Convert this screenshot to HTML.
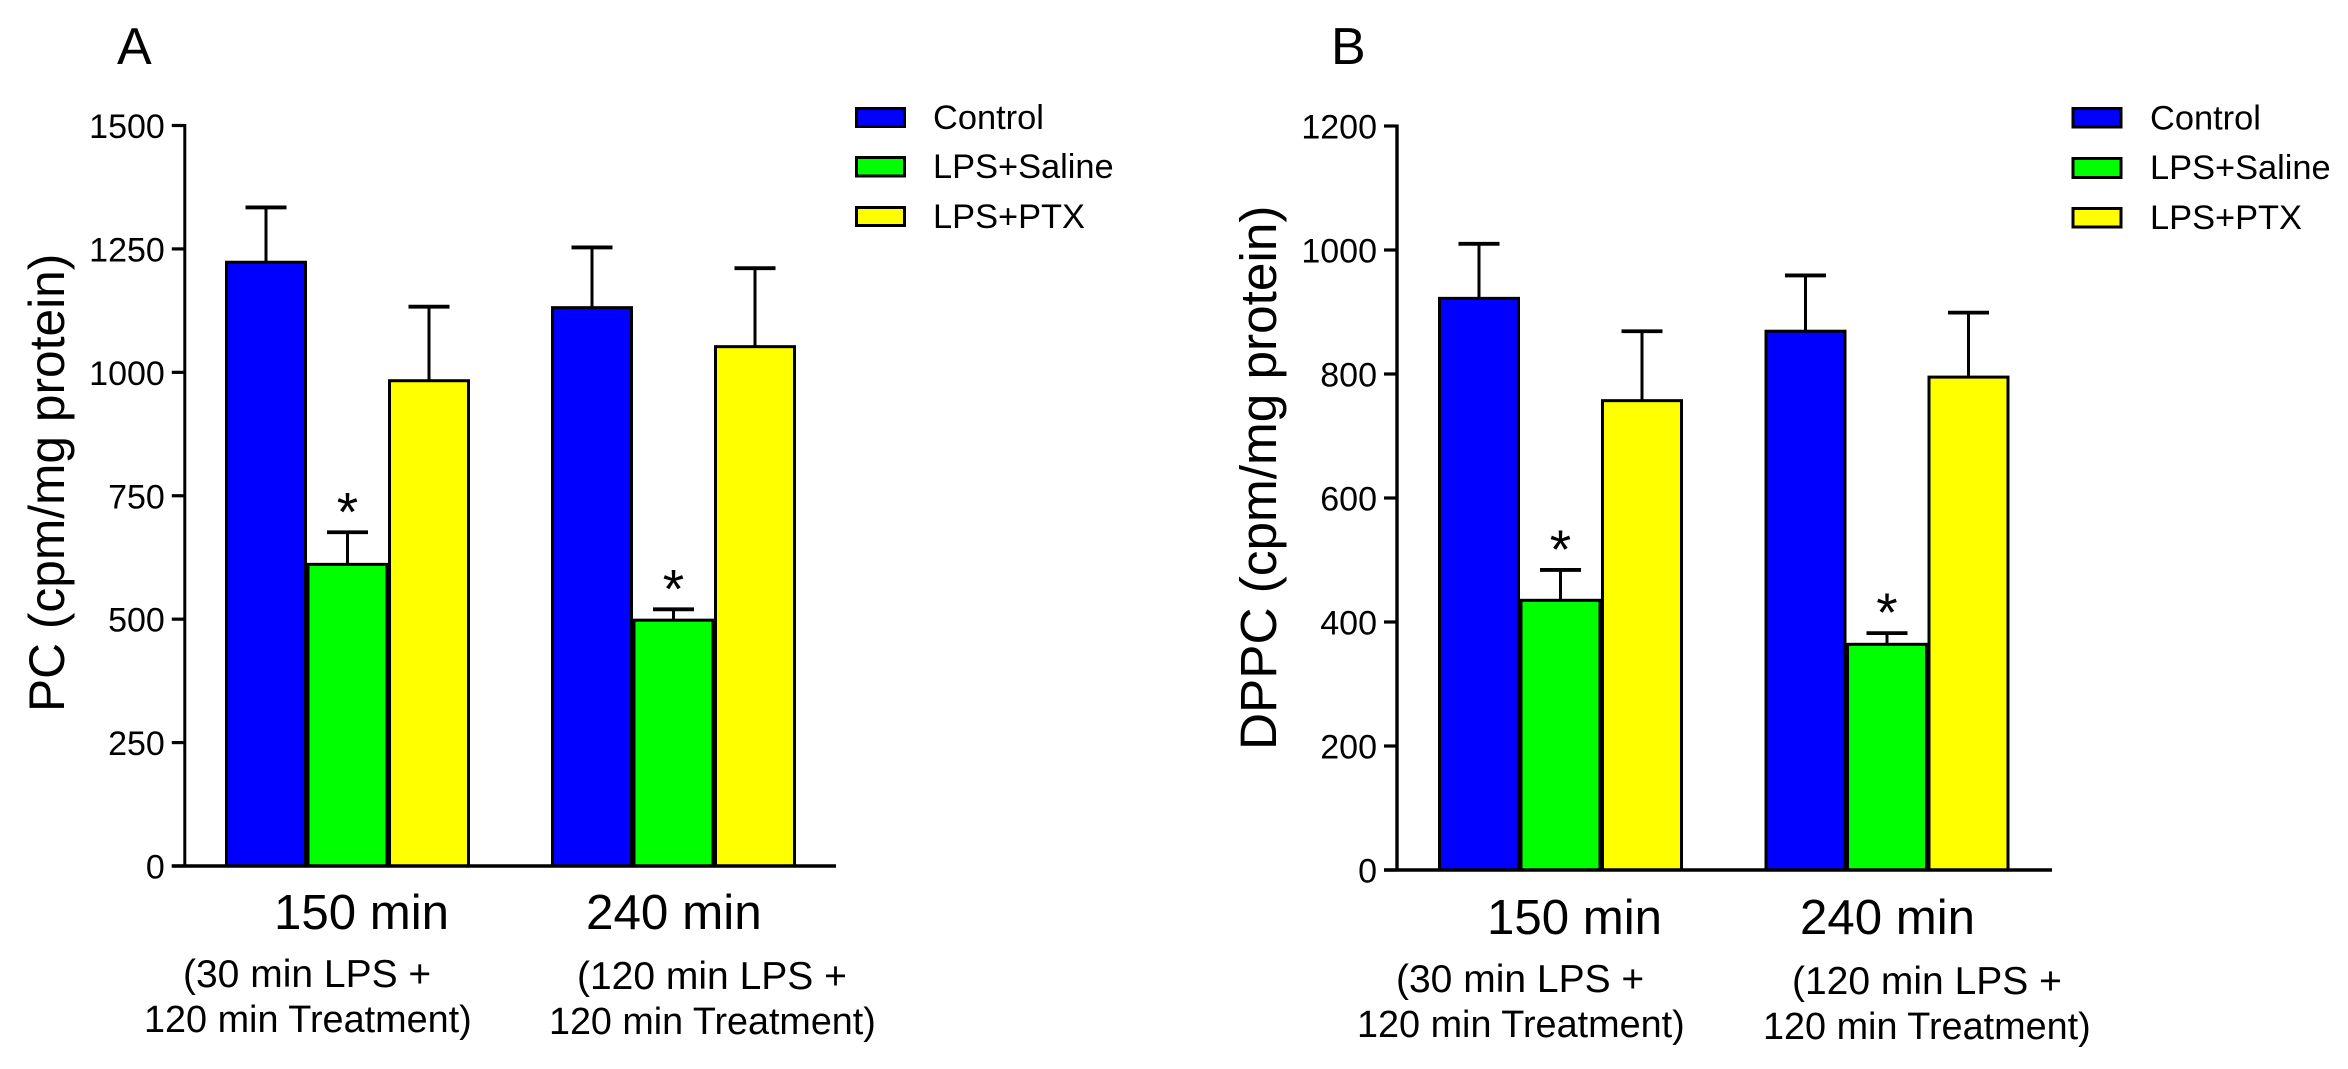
<!DOCTYPE html>
<html lang="en">
<head>
<meta charset="utf-8">
<title>PC and DPPC bar charts</title>
<style>
html,body{margin:0;padding:0;background:#fff;width:2348px;height:1069px;overflow:hidden}
svg{display:block}
text{font-family:"Liberation Sans",Arial,sans-serif;fill:#000}
</style>
</head>
<body>
<svg id="figure" xmlns="http://www.w3.org/2000/svg" width="2348" height="1069" viewBox="0 0 2348 1069">
  <rect x="0" y="0" width="2348" height="1069" fill="#fff"/>

  <g id="panel-a">
    <text x="117" y="64" font-size="52">A</text>
    <text transform="translate(64,712) rotate(-90)" font-size="49.7">PC (cpm/mg protein)</text>
    <text x="274" y="929" font-size="49.2">150 min</text>
    <text x="586" y="929" font-size="49.4">240 min</text>
    <text x="183" y="987" font-size="39">(30 min LPS +</text>
    <text x="144" y="1032" font-size="37.8">120 min Treatment)</text>
    <text x="577" y="989" font-size="39">(120 min LPS +</text>
    <text x="549" y="1034" font-size="37.7">120 min Treatment)</text>
    <g>
      <rect x="856.5" y="108.5" width="48" height="18" fill="#0000ff" stroke="#000" stroke-width="3"/>
      <text x="933" y="129" font-size="34.4">Control</text>
      <rect x="856.5" y="157.5" width="48" height="18.5" fill="#00ff00" stroke="#000" stroke-width="3"/>
      <text x="933" y="178" font-size="34.4">LPS+Saline</text>
      <rect x="856.5" y="207.5" width="48" height="18" fill="#ffff00" stroke="#000" stroke-width="3"/>
      <text x="933" y="228" font-size="34.4">LPS+PTX</text>
    </g>
  </g>

  <g id="panel-b">
    <text x="1331" y="64" font-size="52">B</text>
    <text transform="translate(1276,750) rotate(-90)" font-size="51.3">DPPC (cpm/mg protein)</text>
    <text x="1487" y="934" font-size="49.2">150 min</text>
    <text x="1800" y="934" font-size="49.2">240 min</text>
    <text x="1396" y="992" font-size="39">(30 min LPS +</text>
    <text x="1357" y="1037" font-size="37.8">120 min Treatment)</text>
    <text x="1792" y="994" font-size="39">(120 min LPS +</text>
    <text x="1763" y="1039" font-size="37.8">120 min Treatment)</text>
    <g>
      <rect x="2073" y="108.5" width="48" height="18.5" fill="#0000ff" stroke="#000" stroke-width="3"/>
      <text x="2150" y="129.5" font-size="34.4">Control</text>
      <rect x="2073" y="158.5" width="48" height="19" fill="#00ff00" stroke="#000" stroke-width="3"/>
      <text x="2150" y="179" font-size="34.4">LPS+Saline</text>
      <rect x="2073" y="208.5" width="48" height="18.5" fill="#ffff00" stroke="#000" stroke-width="3"/>
      <text x="2150" y="229" font-size="34.4">LPS+PTX</text>
    </g>
  </g>
</svg>

<script>
// Panel A data (PC)
var categories = ['150 min', '240 min'];
var seriesNames = ['Control', 'LPS+Saline', 'LPS+PTX'];
var seriesColors = ['#0000ff', '#00ff00', '#ffff00'];
var pcControl = [1223, 1131];
var pcSaline = [611, 498];
var pcPtx = [983, 1052];
var pcControlErr = [111, 122];
var pcSalineErr = [65, 22];
var pcPtxErr = [150, 159];
var pcTicks = [0, 250, 500, 750, 1000, 1250, 1500];
var pcMax = 1500;
var pcStars = [false, true, false];

// Panel B data (DPPC)
var dppcControl = [922, 869];
var dppcSaline = [435, 364];
var dppcPtx = [757, 795];
var dppcControlErr = [88, 90];
var dppcSalineErr = [49, 18];
var dppcPtxErr = [112, 104];
var dppcTicks = [0, 200, 400, 600, 800, 1000, 1200];
var dppcMax = 1200;
var dppcStars = [false, true, false];

var NS = 'http://www.w3.org/2000/svg';

function shape(parent, tag, attrs) {
  var el = document.createElementNS(NS, tag);
  for (var k in attrs) el.setAttribute(k, attrs[k]);
  parent.appendChild(el);
  return el;
}

function drawPanel(cfg) {
  var root = document.getElementById(cfg.rootId);
  var suffix = cfg.suffix;

  function yScale(v) {
    return cfg.y0 - (v / cfg.max) * (cfg.y0 - cfg.yTop);
  }
  function barLeft(group, series) {
    return cfg.groupStarts[group] + series * cfg.barStep;
  }

  var barsLayer = shape(root, 'g', {});
  
  

  for (var g = 0; g < categories.length; g++) {
    for (var s = 0; s < seriesNames.length; s++) {
      var value = cfg.values[s][g];
      var err = cfg.errors[s][g];
      var left = barLeft(g, s);
      var cx = left + cfg.barWidth / 2;
      var top = yScale(value);
      var errTop = yScale(value + err);

      var errLine = shape(barsLayer, 'line', {x1: cx, x2: cx, y1: top, y2: errTop, stroke: '#000', 'stroke-width': 3});
      
      

      var cap = shape(barsLayer, 'line', {x1: cx - 20.5, x2: cx + 20.5, y1: errTop, y2: errTop, stroke: '#000', 'stroke-width': 3.8});
      
      

      var bar = shape(barsLayer, 'rect', {x: left, y: top, width: cfg.barWidth, height: cfg.y0 - top, fill: seriesColors[s], stroke: '#000', 'stroke-width': 3});
      
      

      if (cfg.stars[s]) {
        var star = shape(barsLayer, 'text', {x: cx, y: errTop - 2, 'font-size': 55, 'text-anchor': 'middle'});
        star.textContent = '*';
        
        
      }
    }
  }

  var axisLayer = shape(root, 'g', {});
  
  

  var yAxis = shape(axisLayer, 'line', {x1: cfg.axisX, x2: cfg.axisX, y1: cfg.yTop - 1.5, y2: cfg.y0, stroke: '#000', 'stroke-width': cfg.axisWidth});
  
  

  var xAxis = shape(axisLayer, 'line', {x1: cfg.axisX - 13, x2: cfg.xEnd, y1: cfg.y0, y2: cfg.y0, stroke: '#000', 'stroke-width': 3.6});
  
  

  for (var t = 0; t < cfg.ticks.length; t++) {
    var ty = yScale(cfg.ticks[t]);
    var tick = shape(axisLayer, 'line', {x1: cfg.axisX - 13, x2: cfg.axisX, y1: ty, y2: ty, stroke: '#000', 'stroke-width': 3.2});
    
    

    var label = shape(axisLayer, 'text', {x: cfg.axisX - 20, y: ty + 12.5, 'font-size': 34, 'text-anchor': 'end'});
    label.textContent = String(cfg.ticks[t]);
    
    
  }
}

drawPanel({
  rootId: 'panel-a', suffix: 'a',
  values: [pcControl, pcSaline, pcPtx],
  errors: [pcControlErr, pcSalineErr, pcPtxErr],
  ticks: pcTicks, max: pcMax, stars: pcStars,
  y0: 866, yTop: 125.5, axisX: 184.8, axisWidth: 3, xEnd: 836,
  groupStarts: [226.5, 552.5], barStep: 81.5, barWidth: 79
});

drawPanel({
  rootId: 'panel-b', suffix: 'b',
  values: [dppcControl, dppcSaline, dppcPtx],
  errors: [dppcControlErr, dppcSalineErr, dppcPtxErr],
  ticks: dppcTicks, max: dppcMax, stars: dppcStars,
  y0: 870, yTop: 126, axisX: 1397, axisWidth: 3.4, xEnd: 2052,
  groupStarts: [1439.5, 1766], barStep: 81.5, barWidth: 79
});
</script>
</body>
</html>
